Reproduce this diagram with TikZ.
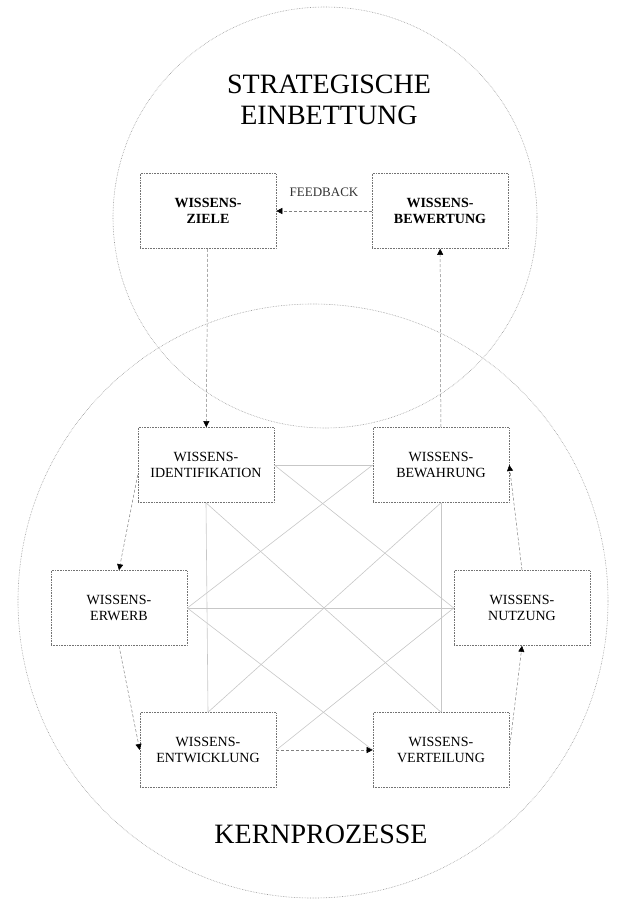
\documentclass[tikz,border=0pt]{standalone}
\usepackage{fontspec}
\setmainfont{Liberation Serif}
\usetikzlibrary{arrows.meta}
\begin{document}
\begin{tikzpicture}[x=1pt,y=-1pt,
    kasten/.style={draw=black!55,densely dotted,line width=0.6pt,minimum width=136pt,minimum height=75pt,align=center,inner sep=2pt,font=\fontsize{14}{16}\selectfont},
    fett/.style={kasten,font=\fontsize{14}{16}\selectfont\bfseries},
    pfeil/.style={draw=black!50,densely dashed,line width=0.5pt,-{Triangle[color=black,length=6pt,width=6pt]}},
    netz/.style={draw=black!22,line width=0.6pt},
    kreis/.style={draw=black!40,densely dotted,line width=0.6pt},
    titel/.style={align=center,font=\fontsize{28}{31}\selectfont}]
\useasboundingbox (0,0) rectangle (628,901);
\draw[kreis] (325,217.5) ellipse [x radius=212,y radius=210.5];
\draw[kreis] (313,601) ellipse [x radius=295,y radius=297];
\node[titel] (strategie) at (329,99.5) {STRATEGISCHE\\EINBETTUNG};
\node[titel] (kern) at (321,834) {KERNPROZESSE};
\node[fett] (ziele) at (208,211) {WISSENS-\\ZIELE};
\node[fett] (bewertung) at (440,211) {WISSENS-\\BEWERTUNG};
\node[kasten] (ident) at (206,465) {WISSENS-\\IDENTIFIKATION};
\node[kasten] (bewahrung) at (441,465) {WISSENS-\\BEWAHRUNG};
\node[kasten] (erwerb) at (119,608) {WISSENS-\\ERWERB};
\node[kasten] (nutzung) at (522,608) {WISSENS-\\NUTZUNG};
\node[kasten] (entwicklung) at (208,750) {WISSENS-\\ENTWICKLUNG};
\node[kasten] (verteilung) at (441,750) {WISSENS-\\VERTEILUNG};
\draw[netz] (ident.east) -- (bewahrung.west);
\draw[netz] (ident.east) -- (nutzung.west);
\draw[netz] (ident.south) -- (entwicklung.north);
\draw[netz] (ident.south) -- (verteilung.north);
\draw[netz] (bewahrung.west) -- (erwerb.east);
\draw[netz] (bewahrung.south) -- (entwicklung.north);
\draw[netz] (bewahrung.south) -- (verteilung.north);
\draw[netz] (erwerb.east) -- (nutzung.west);
\draw[netz] (erwerb.east) -- (verteilung.west);
\draw[netz] (nutzung.west) -- (entwicklung.east);
\draw[pfeil] (bewertung) -- node[above=11pt,font=\fontsize{13}{15}\selectfont,text=black!80] (feedback) {FEEDBACK} (ziele);
\draw[pfeil] (ziele) -- (ident);
\draw[pfeil] (bewahrung) -- (bewertung);
\draw[pfeil] ([yshift=-10pt]ident.west) -- (erwerb.north);
\draw[pfeil] (erwerb.south) -- (entwicklung.west);
\draw[pfeil] (entwicklung) -- (verteilung);
\draw[pfeil] (verteilung.east) -- (nutzung.south);
\draw[pfeil] (nutzung.north) -- (bewahrung.east);
\end{tikzpicture}
\end{document}
